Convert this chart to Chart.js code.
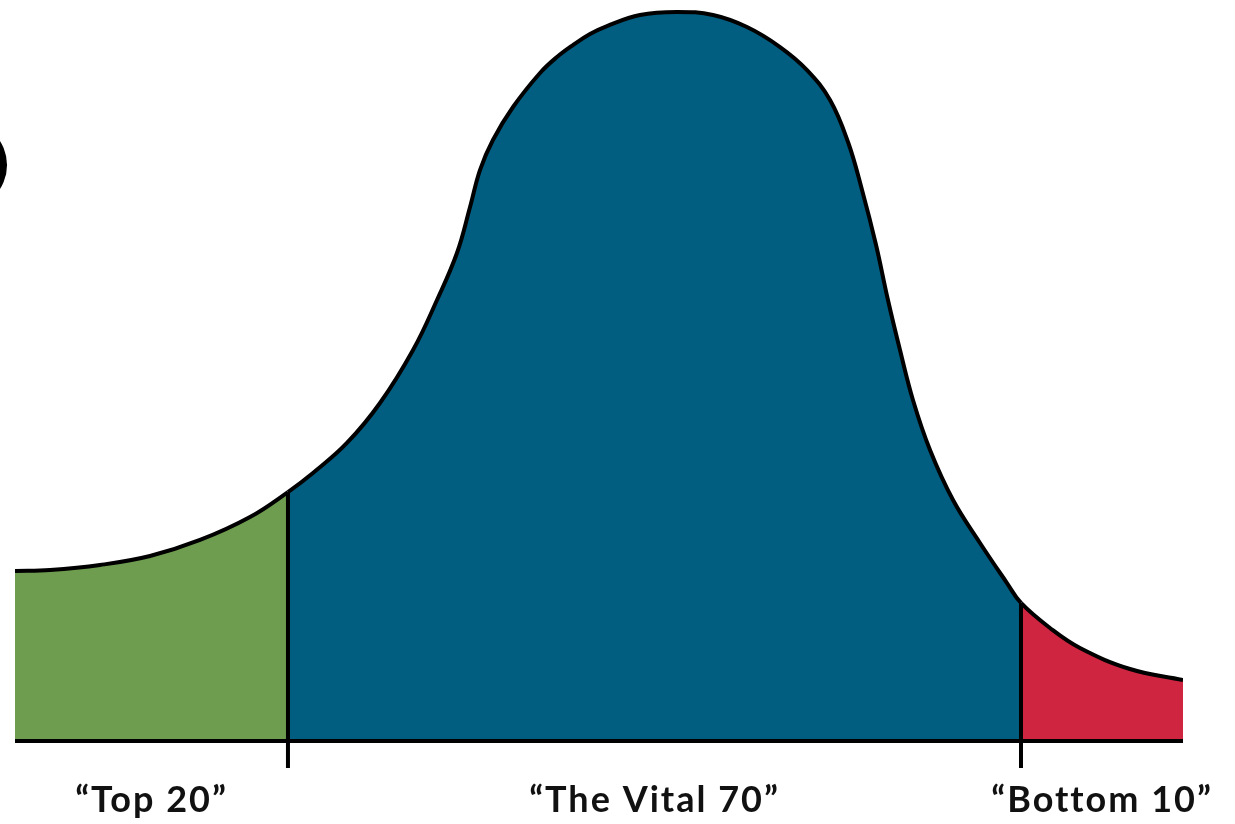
<!DOCTYPE html>
<html>
<head>
<meta charset="utf-8">
<script src="https://cdn.jsdelivr.net/npm/chart.js@4"></script>
<style>
  html, body { margin: 0; padding: 0; background: #ffffff; }
  canvas { display: block; }
</style>
</head>
<body>
<canvas id="c" width="1235" height="824"></canvas>
<script>
// ---- data ----
const curveX = [0.00, 3.00, 7.28, 11.56, 15.84, 20.12, 23.37, 25.51, 28.42, 31.25, 34.08, 36.13, 37.84, 38.96, 39.81, 40.92, 42.64, 44.95, 46.40, 47.77, 49.23, 50.68, 53.51, 56.68, 59.76, 62.67, 65.50, 67.81, 69.78, 71.32, 72.52, 73.72, 74.74, 75.77, 76.88, 78.34, 80.31, 82.62, 84.93, 86.13, 88.61, 91.18, 95.46, 100.00];
const curveY = [23.26, 23.39, 24.08, 25.31, 27.50, 30.64, 34.06, 36.66, 40.77, 46.24, 53.49, 60.33, 66.76, 73.05, 78.11, 82.22, 86.73, 91.38, 93.57, 95.21, 96.72, 97.81, 99.32, 99.73, 99.32, 97.67, 94.94, 91.79, 87.69, 81.94, 75.38, 67.85, 60.33, 53.49, 46.65, 39.81, 32.97, 27.09, 21.61, 18.88, 15.46, 12.72, 9.85, 8.34];
const boundaries = [23.37, 86.13];
const groupLabels = ['\u201CTop 20\u201D', '\u201CThe Vital 70\u201D', '\u201CBottom 10\u201D'];
const labelPositions = [11.69, 54.75, 93.07];
const groupColors = ['#6E9D4F', '#025E80', '#D02541'];
const tickDepth = -3.69;
const stray = {x: -4.5, y: 78.8, r: 44.6};

// ---- build chart ----
const curve = curveX.map((x, i) => ({x, y: curveY[i]}));
const segColor = (ctx) => {
  const x = ctx.p0.parsed.x;
  if (x < boundaries[0]) return groupColors[0];
  if (x < boundaries[1]) return groupColors[1];
  return groupColors[2];
};
const dividerSets = boundaries.map(b => ({
  type: 'line',
  data: [{x: b, y: tickDepth}, {x: b, y: curveY[curveX.indexOf(b)]}],
  borderColor: '#000000',
  borderWidth: 4,
  pointRadius: 0,
  fill: false,
  tension: 0,
  clip: false,
  order: 1
}));

const spacing = {
  id: 'spacing',
  beforeUpdate(chart) { chart.ctx.letterSpacing = '2px'; },
  beforeDraw(chart) { chart.ctx.letterSpacing = '2px'; }
};

const strayMark = {
  id: 'strayMark',
  afterDatasetsDraw(chart) {
    const {ctx, scales: {x, y}} = chart;
    ctx.save();
    ctx.fillStyle = '#000000';
    ctx.beginPath();
    ctx.arc(x.getPixelForValue(stray.x), y.getPixelForValue(stray.y), stray.r, 0, Math.PI * 2);
    ctx.fill();
    ctx.restore();
  }
};

new Chart(document.getElementById('c'), {
  type: 'line',
  data: {
    datasets: [
      {
        data: curve,
        borderColor: '#000000',
        borderWidth: 4,
        pointRadius: 0,
        fill: 'origin',
        backgroundColor: groupColors[1],
        tension: 0.4,
        segment: { backgroundColor: segColor },
        order: 3
      },
      ...dividerSets,
      {
        type: 'line',
        data: [{x: 0, y: 0}, {x: 100, y: 0}],
        borderColor: '#000000',
        borderWidth: 4,
        pointRadius: 0,
        fill: false,
        borderCapStyle: 'butt',
        clip: false,
        order: 2
      }
    ]
  },
  plugins: [spacing, strayMark],
  options: {
    responsive: false,
    animation: false,
    events: [],
    layout: { autoPadding: false, padding: { left: 15, right: 52, top: 0, bottom: 0 } },
    plugins: { legend: { display: false }, tooltip: { enabled: false } },
    scales: {
      x: {
        type: 'linear',
        min: 0,
        max: 100,
        grid: { display: false, drawTicks: false },
        border: { display: false },
        afterBuildTicks: (scale) => { scale.ticks = labelPositions.map(v => ({value: v})); },
        afterFit: (scale) => { scale.height = 54; },
        ticks: {
          autoSkip: false,
          maxRotation: 0,
          padding: 9,
          color: '#111111',
          font: { family: 'Lato', size: 36, weight: 'bold' },
          callback: (v, i) => groupLabels[i]
        }
      },
      y: {
        display: false,
        min: -3.967,
        max: 101.37
      }
    }
  }
});
</script>
</body>
</html>
